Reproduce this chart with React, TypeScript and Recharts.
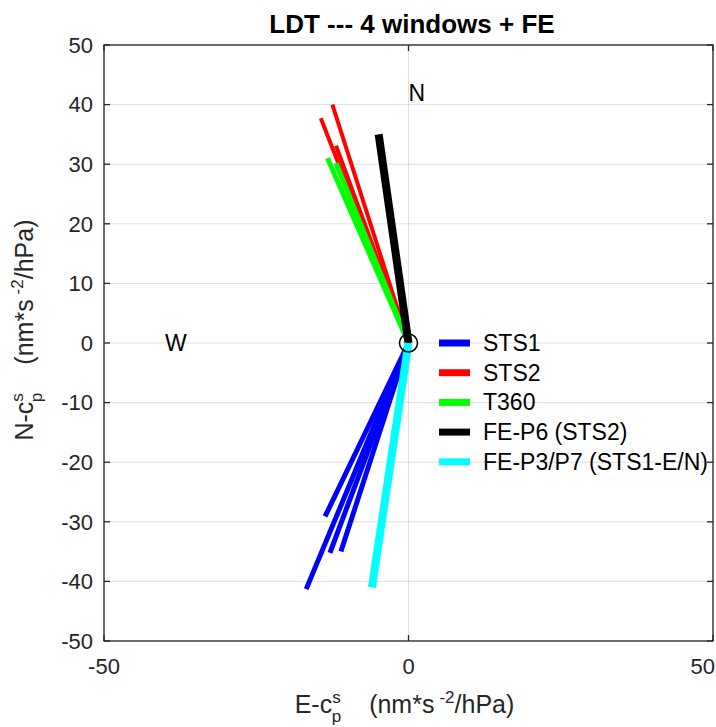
import { ScatterChart, Scatter, XAxis, YAxis, CartesianGrid } from "recharts";

const FONT = "'Liberation Sans', Arial, Helvetica, sans-serif";
const INK = "#262626";
const TICK_LEN = 6;
const PAGE_W = 716;
const PAGE_H = 727;

// plot box in page pixels
const BOX = { left: 104, top: 45, right: 713, bottom: 641 };

const X_DOMAIN = [-50, 50];
const Y_DOMAIN = [-50, 50];
const X_TICKS = [-50, 0, 50];
const Y_TICKS = [-50, -40, -30, -20, -10, 0, 10, 20, 30, 40, 50];

// window end points [E, N]; every segment starts at the origin
const STS1 = [[-13.7, -29.1], [-16.8, -41.3], [-12.9, -35.2], [-11.1, -35.0]];
const STS2 = [[-12.5, 40.0], [-14.4, 37.7], [-11.9, 33.1]];
const T360 = [[-13.3, 31.0], [-11.9, 30.2]];
const FE_P6 = [[-4.9, 35.0]];
const FE_P3P7 = [[-6.0, -41.0]];

const SERIES = [
  { name: "STS1", color: "#0000ff", width: 5, ends: STS1 },
  { name: "STS2", color: "#ff0000", width: 4, ends: STS2 },
  { name: "T360", color: "#00ff00", width: 5, ends: T360 },
  { name: "FE-P6 (STS2)", color: "#000000", width: 8, ends: FE_P6 },
  { name: "FE-P3/P7 (STS1-E/N)", color: "#00ffff", width: 8, ends: FE_P3P7 },
];

const ORIGIN = [{ x: 0, y: 0 }];
const MARKERS = [
  { x: 0, y: 42, text: "N" },
  { x: -40, y: 0, text: "W" },
];

const LeftTick = ({ x, y, payload }: any) => (
  <text x={x} y={y} dy="0.355em" textAnchor="end" fontSize={22} fontFamily={FONT} fill={INK}>
    {payload.value}
  </text>
);

const BottomTick = ({ x, y, payload }: any) => {
  // keep the last label inside the page
  const nearEdge = x + 13 > PAGE_W;
  return (
    <text
      x={nearEdge ? PAGE_W - 1 : x}
      y={y}
      dy="0.71em"
      textAnchor={nearEdge ? "end" : "middle"}
      fontSize={22}
      fontFamily={FONT}
      fill={INK}
    >
      {payload.value}
    </text>
  );
};

// box + inward tick marks on all four sides (MATLAB "box on")
const Frame = () => {
  const w = BOX.right - BOX.left;
  const h = BOX.bottom - BOX.top;
  const px = (v: number) => BOX.left + ((v - X_DOMAIN[0]) / (X_DOMAIN[1] - X_DOMAIN[0])) * w;
  const py = (v: number) => BOX.bottom - ((v - Y_DOMAIN[0]) / (Y_DOMAIN[1] - Y_DOMAIN[0])) * h;
  return (
    <svg
      width={PAGE_W}
      height={PAGE_H}
      style={{ position: "absolute", left: 0, top: 0, pointerEvents: "none" }}
    >
      <g stroke={INK} strokeWidth={1.3} fill="none">
        <rect x={BOX.left} y={BOX.top} width={w} height={h} />
        {X_TICKS.map((t) => (
          <g key={`x${t}`}>
            <line x1={px(t)} x2={px(t)} y1={BOX.bottom} y2={BOX.bottom - TICK_LEN} />
            <line x1={px(t)} x2={px(t)} y1={BOX.top} y2={BOX.top + TICK_LEN} />
          </g>
        ))}
        {Y_TICKS.map((t) => (
          <g key={`y${t}`}>
            <line x1={BOX.left} x2={BOX.left + TICK_LEN} y1={py(t)} y2={py(t)} />
            <line x1={BOX.right} x2={BOX.right - TICK_LEN} y1={py(t)} y2={py(t)} />
          </g>
        ))}
      </g>
    </svg>
  );
};

// c_p^s (stacked sub/superscript) followed by the unit
const UnitText = () => (
  <>
    <tspan dy={-10} fontSize={17}>s</tspan>
    <tspan dx={-9} dy={19} fontSize={17}>p</tspan>
    <tspan dx={28} dy={-9}>(nm*s</tspan>
    <tspan dx={5} dy={-10} fontSize={17}>-2</tspan>
    <tspan dy={10}>/hPa)</tspan>
  </>
);

const XLabel = ({ viewBox }: any) => (
  <text
    x={viewBox.x + viewBox.width / 2 - 4}
    y={viewBox.y + 72}
    textAnchor="middle"
    fontSize={25}
    fontFamily={FONT}
    fill={INK}
  >
    E-c
    <UnitText />
  </text>
);

const YLabel = ({ viewBox }: any) => {
  const cx = 33;
  const cy = viewBox.y + viewBox.height / 2 - 13;
  return (
    <text
      x={cx}
      y={cy}
      transform={`rotate(-90, ${cx}, ${cy})`}
      textAnchor="middle"
      fontSize={25}
      fontFamily={FONT}
      fill={INK}
    >
      N-c
      <UnitText />
    </text>
  );
};

const TitleBox = () => (
  <svg width={PAGE_W} height={44} style={{ position: "absolute", left: 0, top: 0 }}>
    <text x={412} y={33} textAnchor="middle" fontSize={26} fontWeight="bold" fontFamily={FONT} fill="#000">
      LDT --- 4 windows + FE
    </text>
  </svg>
);

const LegendBox = () => (
  <div style={{ position: "absolute", left: 439, top: 328, width: 277, height: 150 }}>
    <svg width={277} height={150}>
      {SERIES.map((s, i) => {
        const y = 15 + i * 29.7;
        return (
          <g key={s.name}>
            <line x1={0} x2={31} y1={y} y2={y} stroke={s.color} strokeWidth={7} />
            <text x={44} y={y} dominantBaseline="central" fontSize={23} fontFamily={FONT} fill="#000">
              {s.name}
            </text>
          </g>
        );
      })}
    </svg>
  </div>
);

export default function App() {
  return (
    <div
      style={{ position: "absolute", left: 0, top: 0, width: PAGE_W, height: PAGE_H, overflow: "hidden", background: "#fff" }}
    >
      <ScatterChart
        width={PAGE_W}
        height={PAGE_H}
        margin={{ top: BOX.top, right: PAGE_W - BOX.right, bottom: 0, left: 0 }}
      >
        <CartesianGrid stroke={INK} strokeOpacity={0.15} strokeWidth={1} />
        <XAxis
          type="number"
          dataKey="x"
          domain={X_DOMAIN}
          ticks={X_TICKS}
          height={PAGE_H - BOX.bottom}
          tickSize={0}
          tickMargin={17}
          tick={<BottomTick />}
          axisLine={false}
          tickLine={false}
          label={XLabel}
        />
        <YAxis
          type="number"
          dataKey="y"
          domain={Y_DOMAIN}
          ticks={Y_TICKS}
          width={BOX.left}
          tickSize={0}
          tickMargin={11}
          tick={<LeftTick />}
          axisLine={false}
          tickLine={false}
          label={YLabel}
        />
        {SERIES.flatMap((s) =>
          s.ends.map(([ex, ey], j) => (
            <Scatter
              key={`${s.name}-${j}`}
              data={[{ x: 0, y: 0 }, { x: ex, y: ey }]}
              line={{ stroke: s.color, strokeWidth: s.width }}
              shape={() => <g />}
              legendType="none"
              isAnimationActive={false}
            />
          ))
        )}
        <Scatter
          data={ORIGIN}
          shape={(p: any) => <circle cx={p.cx} cy={p.cy} r={9} fill="none" stroke="#000" strokeWidth={1.5} />}
          isAnimationActive={false}
        />
        <Scatter
          data={MARKERS}
          shape={(p: any) => (
            <text x={p.cx} y={p.cy} dominantBaseline="central" fontSize={23} fontFamily={FONT} fill="#000">
              {p.payload.text}
            </text>
          )}
          isAnimationActive={false}
        />
      </ScatterChart>
      <Frame />
      <TitleBox />
      <LegendBox />
    </div>
  );
}
